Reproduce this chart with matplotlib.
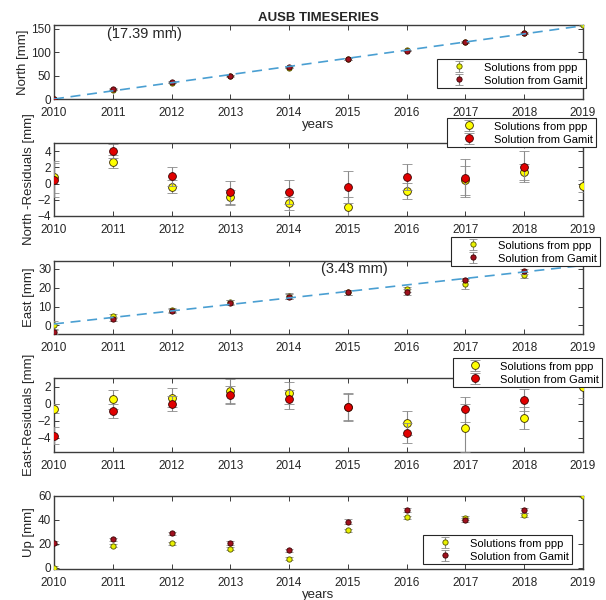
import numpy as np
import matplotlib
matplotlib.use("Agg")
import matplotlib.pyplot as plt

plt.rcParams['font.family'] = ['Liberation Sans', 'DejaVu Sans']

# ---------------------------------------------------------------- data
years = [2010, 2011, 2012, 2013, 2014, 2015, 2016, 2017, 2018, 2019]
gamit_years = [2010, 2011, 2012, 2013, 2014, 2015, 2016, 2017, 2018]
east_years = [2010, 2011, 2012, 2013, 2014, 2015, 2016, 2017, 2018]

# North component [mm]
north_ppp = [0.0, 20.0, 35.0, 50.0, 67.0, 85.0, 104.0, 121.0, 140.0, 157.0]
north_ppp_err = [1.5, 1.5, 1.5, 1.5, 1.5, 1.5, 1.5, 1.5, 1.5, 1.5]
north_gamit = [0.5, 20.5, 35.5, 50.0, 67.5, 84.5, 103.5, 121.5, 140.0]
north_gamit_err = [2.0, 2.0, 2.0, 2.0, 2.0, 2.0, 2.0, 2.0, 2.0]
north_rate = 17.39
north_offset = 0.0

# North residuals [mm]
north_res_ppp = [0.8, 2.7, -0.4, -1.7, -2.4, -2.9, -0.9, 0.4, 1.4, -0.3]
north_res_ppp_err = [2.0, 0.8, 0.8, 0.9, 0.8, 1.2, 1.0, 1.8, 1.0, 0.75]
north_res_gamit = [0.4, 4.0, 0.9, -1.1, -1.0, -0.4, 0.8, 0.7, 2.1]
north_res_gamit_err = [2.1, 0.9, 1.2, 1.4, 1.5, 2.0, 1.6, 2.3, 1.9]

# East component [mm]
east_ppp = [0.0, 4.8, 8.0, 12.4, 15.5, 17.6, 19.0, 22.0, 26.5]
east_ppp_err = [2.5, 1.0, 1.0, 1.2, 1.5, 1.3, 1.5, 2.6, 1.5]
east_gamit = [-3.2, 3.3, 7.6, 12.0, 15.2, 17.4, 17.6, 24.2, 28.5]
east_gamit_err = [1.5, 1.0, 1.0, 1.2, 1.5, 1.3, 1.5, 1.0, 1.5]
east_rate = 3.43
east_offset = 0.8

# East residuals [mm]
east_res_ppp = [-0.6, 0.5, 0.7, 1.5, 1.2, -0.4, -2.3, -2.9, -1.7, 1.9]
east_res_ppp_err = [0.5, 1.1, 1.1, 1.4, 1.3, 1.5, 1.4, 2.8, 1.3, 1.2]
east_res_gamit = [-3.8, -0.9, 0.0, 1.0, 0.5, -0.4, -3.5, -0.7, 0.4]
east_res_gamit_err = [1.0, 0.8, 0.9, 1.1, 1.1, 1.6, 1.2, 1.5, 1.3]

# Up component [mm]
up_ppp = [0.0, 18.5, 20.5, 16.0, 7.5, 31.5, 42.2, 41.7, 44.2, 60.0]
up_ppp_err = [1.2, 1.2, 1.2, 1.2, 1.2, 1.2, 1.2, 2.0, 1.5, 0.8]
up_gamit = [20.6, 24.0, 28.8, 20.8, 14.5, 38.4, 48.2, 40.0, 48.2]
up_gamit_err = [1.5, 1.2, 1.2, 1.5, 1.5, 2.2, 1.5, 2.0, 2.0]

label_ppp = 'Solutions from ppp'
label_gamit = 'Solution from Gamit'
title = 'AUSB TIMESERIES'

# ---------------------------------------------------------------- style
W, H = 606, 600
fig = plt.figure(figsize=(W / 100, H / 100), dpi=100)

ERR_COLOR = '#8a8a8a'
AX_COLOR = '#3c3c3c'
TXT_COLOR = '#262626'
FIT_COLOR = '#4a9fd2'


def px_axes(top, bottom, left=54, right=583):
    return fig.add_axes([left / W, 1 - bottom / H, (right - left) / W, (bottom - top) / H])


def style_axes(ax, yticks, ylim, ylabel):
    ax.set_xlim(2010, 2019)
    ax.set_xticks(years)
    ax.set_xticklabels([str(y) for y in years])
    ax.set_ylim(*ylim)
    ax.set_yticks(yticks)
    ax.tick_params(direction='in', top=True, right=True, length=3.5, width=0.7,
                   colors=AX_COLOR, labelcolor=TXT_COLOR, labelsize=8.5, pad=2)
    ax.tick_params(axis='x', pad=5.5)
    for s in ax.spines.values():
        s.set_color(AX_COLOR)
        s.set_linewidth(1.0)
    ax.set_ylabel(ylabel, fontsize=9.5, color=TXT_COLOR, labelpad=2)


def draw_series(ax, x_ppp, ppp, ppp_err, x_g, gamit, gamit_err, big):
    ms = 5.6 if big else 3.8
    cap = 3.6 if big else 3.0
    ppp_face = '#ffff00' if big else '#e8f000'
    gamit_face = '#e00000' if big else '#a0101e'
    edge = '#3a2a00' if big else '#555500'
    h1 = ax.errorbar(x_ppp, ppp, yerr=ppp_err, fmt='o', ms=ms, mfc=ppp_face, mec=edge,
                     mew=0.6, ecolor=ERR_COLOR, elinewidth=0.8, capsize=cap, capthick=0.8,
                     label=label_ppp, zorder=3)
    h2 = ax.errorbar(x_g, gamit, yerr=gamit_err, fmt='o', ms=ms, mfc=gamit_face,
                     mec='#3a0000', mew=0.6, ecolor=ERR_COLOR, elinewidth=0.8, capsize=cap,
                     capthick=0.8, label=label_gamit, zorder=4)
    return h1, h2


def add_legend(ax, left, top):
    leg = ax.legend(loc='upper left', bbox_to_anchor=(left / W, 1 - top / H),
                    bbox_transform=fig.transFigure, borderaxespad=0, fontsize=8,
                    frameon=True, fancybox=False, edgecolor='#262626', framealpha=1,
                    borderpad=0.25, labelspacing=0.2, handlelength=3.4,
                    handletextpad=0.6, handleheight=1.0)
    leg.get_frame().set_linewidth(0.8)
    leg.set_zorder(10)
    return leg


# ---------------------------------------------------------------- North
ax1 = px_axes(25, 99)
draw_series(ax1, years, north_ppp, north_ppp_err, gamit_years, north_gamit,
            north_gamit_err, big=False)
t = np.array([2010, 2019])
ax1.plot(t, north_offset + north_rate * (t - 2010), '--', color=FIT_COLOR, lw=1.2,
         dashes=(6, 4), zorder=5)
style_axes(ax1, [0, 50, 100, 150], (0, 158), 'North [mm]')
ax1.text(2010.9, 139, f'({north_rate:.2f} mm)', fontsize=10.5, color=TXT_COLOR,
         va='center', ha='left')
ax1.set_title(title, fontsize=9.5, fontweight='bold', color=TXT_COLOR, pad=3)
ax1.set_xlabel('years', fontsize=9.5, color=TXT_COLOR, labelpad=0)
add_legend(ax1, 437, 59)

# ---------------------------------------------------------------- North residuals
ax2 = px_axes(143, 216)
draw_series(ax2, years, north_res_ppp, north_res_ppp_err, gamit_years, north_res_gamit,
            north_res_gamit_err, big=True)
style_axes(ax2, [-4, -2, 0, 2, 4], (-4, 5), 'North -Residuals [mm]')
add_legend(ax2, 447, 118)

# ---------------------------------------------------------------- East
ax3 = px_axes(261, 334)
draw_series(ax3, east_years, east_ppp, east_ppp_err, east_years, east_gamit,
            east_gamit_err, big=False)
ax3.plot(t, east_offset + east_rate * (t - 2010), '--', color=FIT_COLOR, lw=1.2,
         dashes=(6, 4), zorder=5)
style_axes(ax3, [0, 10, 20, 30], (-4.5, 34), 'East [mm]')
ax3.text(2014.55, 30, f'({east_rate:.2f} mm)', fontsize=10.5, color=TXT_COLOR,
         va='center', ha='left')
add_legend(ax3, 451, 237)

# ---------------------------------------------------------------- East residuals
ax4 = px_axes(378, 452)
draw_series(ax4, years, east_res_ppp, east_res_ppp_err, gamit_years, east_res_gamit,
            east_res_gamit_err, big=True)
style_axes(ax4, [-4, -2, 0, 2], (-5.7, 3), 'East-Residuals [mm]')
add_legend(ax4, 453, 358)

# ---------------------------------------------------------------- Up
ax5 = px_axes(496, 569)
draw_series(ax5, years, up_ppp, up_ppp_err, gamit_years, up_gamit, up_gamit_err,
            big=False)
style_axes(ax5, [0, 20, 40, 60], (-1, 60), 'Up [mm]')
ax5.set_xlabel('years', fontsize=9.5, color=TXT_COLOR, labelpad=0)
add_legend(ax5, 423, 535)

fig.savefig('out.png', dpi=100)
